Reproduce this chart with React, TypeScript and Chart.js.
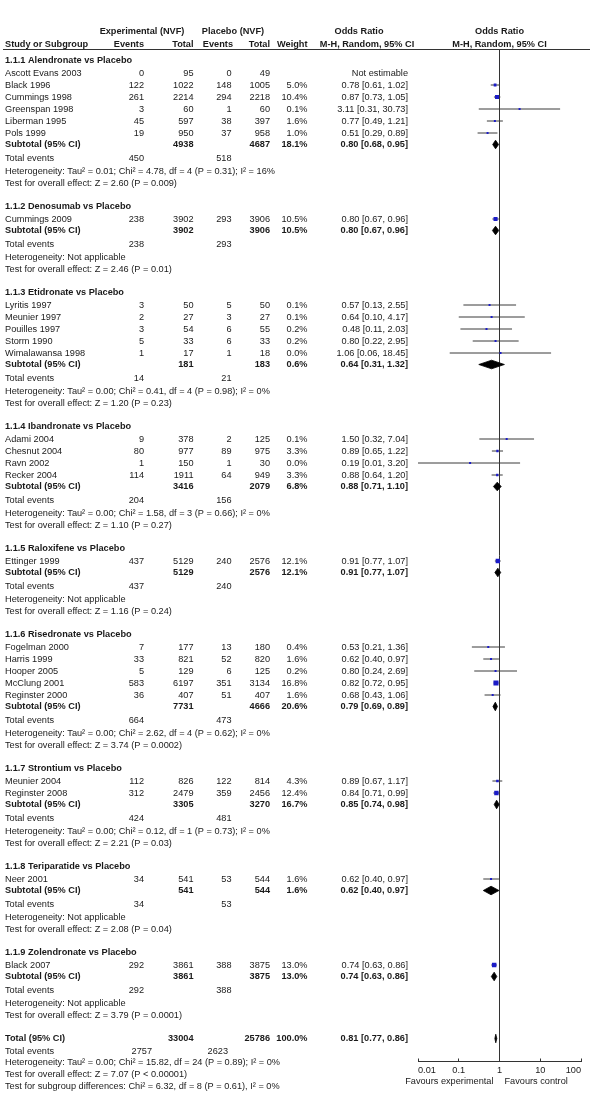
import React, { useEffect, useRef } from "react";
import { Chart, registerables } from "chart.js";

Chart.register(...registerables);

// ---------------- DATA ----------------
const groupTitles = [
  "1.1.1 Alendronate vs Placebo",
  "1.1.2 Denosumab vs Placebo",
  "1.1.3 Etidronate vs Placebo",
  "1.1.4 Ibandronate vs Placebo",
  "1.1.5 Raloxifene vs Placebo",
  "1.1.6 Risedronate vs Placebo",
  "1.1.7 Strontium vs Placebo",
  "1.1.8 Teriparatide vs Placebo",
  "1.1.9 Zolendronate vs Placebo",
];

const studyNames = [
  "Ascott Evans 2003", "Black 1996", "Cummings 1998", "Greenspan 1998", "Liberman 1995", "Pols 1999",
  "Cummings 2009",
  "Lyritis 1997", "Meunier 1997", "Pouilles 1997", "Storm 1990", "Wimalawansa 1998",
  "Adami 2004", "Chesnut 2004", "Ravn 2002", "Recker 2004",
  "Ettinger 1999",
  "Fogelman 2000", "Harris 1999", "Hooper 2005", "McClung 2001", "Reginster 2000",
  "Meunier 2004", "Reginster 2008",
  "Neer 2001",
  "Black 2007",
];
const studyGroup = [0, 0, 0, 0, 0, 0, 1, 2, 2, 2, 2, 2, 3, 3, 3, 3, 4, 5, 5, 5, 5, 5, 6, 6, 7, 8];
const expEvents = [0, 122, 261, 3, 45, 19, 238, 3, 2, 3, 5, 1, 9, 80, 1, 114, 437, 7, 33, 5, 583, 36, 112, 312, 34, 292];
const expTotal = [95, 1022, 2214, 60, 597, 950, 3902, 50, 27, 54, 33, 17, 378, 977, 150, 1911, 5129, 177, 821, 129, 6197, 407, 826, 2479, 541, 3861];
const plaEvents = [0, 148, 294, 1, 38, 37, 293, 5, 3, 6, 6, 1, 2, 89, 1, 64, 240, 13, 52, 6, 351, 51, 122, 359, 53, 388];
const plaTotal = [49, 1005, 2218, 60, 397, 958, 3906, 50, 27, 55, 33, 18, 125, 975, 30, 949, 2576, 180, 820, 125, 3134, 407, 814, 2456, 544, 3875];
const weights: (number | null)[] = [null, 5.0, 10.4, 0.1, 1.6, 1.0, 10.5, 0.1, 0.1, 0.2, 0.2, 0.0, 0.1, 3.3, 0.0, 3.3, 12.1, 0.4, 1.6, 0.2, 16.8, 1.6, 4.3, 12.4, 1.6, 13.0];
const orEst: (number | null)[] = [null, 0.78, 0.87, 3.11, 0.77, 0.51, 0.8, 0.57, 0.64, 0.48, 0.8, 1.06, 1.5, 0.89, 0.19, 0.88, 0.91, 0.53, 0.62, 0.8, 0.82, 0.68, 0.89, 0.84, 0.62, 0.74];
const orLow: (number | null)[] = [null, 0.61, 0.73, 0.31, 0.49, 0.29, 0.67, 0.13, 0.1, 0.11, 0.22, 0.06, 0.32, 0.65, 0.01, 0.64, 0.77, 0.21, 0.4, 0.24, 0.72, 0.43, 0.67, 0.71, 0.4, 0.63];
const orHigh: (number | null)[] = [null, 1.02, 1.05, 30.73, 1.21, 0.89, 0.96, 2.55, 4.17, 2.03, 2.95, 18.45, 7.04, 1.22, 3.2, 1.2, 1.07, 1.36, 0.97, 2.69, 0.95, 1.06, 1.17, 0.99, 0.97, 0.86];

const subExpTotal = [4938, 3902, 181, 3416, 5129, 7731, 3305, 541, 3861];
const subPlaTotal = [4687, 3906, 183, 2079, 2576, 4666, 3270, 544, 3875];
const subWeight = [18.1, 10.5, 0.6, 6.8, 12.1, 20.6, 16.7, 1.6, 13.0];
const subEst = [0.8, 0.8, 0.64, 0.88, 0.91, 0.79, 0.85, 0.62, 0.74];
const subLow = [0.68, 0.67, 0.31, 0.71, 0.77, 0.69, 0.74, 0.4, 0.63];
const subHigh = [0.95, 0.96, 1.32, 1.1, 1.07, 0.89, 0.98, 0.97, 0.86];
const subExpEvents = [450, 238, 14, 204, 437, 664, 424, 34, 292];
const subPlaEvents = [518, 293, 21, 156, 240, 473, 481, 53, 388];
const hetTexts = [
  "Heterogeneity: Tau² = 0.01; Chi² = 4.78, df = 4 (P = 0.31); I² = 16%",
  "Heterogeneity: Not applicable",
  "Heterogeneity: Tau² = 0.00; Chi² = 0.41, df = 4 (P = 0.98); I² = 0%",
  "Heterogeneity: Tau² = 0.00; Chi² = 1.58, df = 3 (P = 0.66); I² = 0%",
  "Heterogeneity: Not applicable",
  "Heterogeneity: Tau² = 0.00; Chi² = 2.62, df = 4 (P = 0.62); I² = 0%",
  "Heterogeneity: Tau² = 0.00; Chi² = 0.12, df = 1 (P = 0.73); I² = 0%",
  "Heterogeneity: Not applicable",
  "Heterogeneity: Not applicable",
];
const testTexts = [
  "Test for overall effect: Z = 2.60 (P = 0.009)",
  "Test for overall effect: Z = 2.46 (P = 0.01)",
  "Test for overall effect: Z = 1.20 (P = 0.23)",
  "Test for overall effect: Z = 1.10 (P = 0.27)",
  "Test for overall effect: Z = 1.16 (P = 0.24)",
  "Test for overall effect: Z = 3.74 (P = 0.0002)",
  "Test for overall effect: Z = 2.21 (P = 0.03)",
  "Test for overall effect: Z = 2.08 (P = 0.04)",
  "Test for overall effect: Z = 3.79 (P = 0.0001)",
];

const totalExpTotal = 33004;
const totalPlaTotal = 25786;
const totalWeight = 100.0;
const totalEst = 0.81;
const totalLow = 0.77;
const totalHigh = 0.86;
const totalExpEvents = 2757;
const totalPlaEvents = 2623;
const totalHet = "Heterogeneity: Tau² = 0.00; Chi² = 15.82, df = 24 (P = 0.89); I² = 0%";
const totalTest = "Test for overall effect: Z = 7.07 (P < 0.00001)";
const subgroupTest = "Test for subgroup differences: Chi² = 6.32, df = 8 (P = 0.61), I² = 0%";

const tickValues = [0.01, 0.1, 1, 10, 100];
const tickLabels = ["0.01", "0.1", "1", "10", "100"];
const favoursLeft = "Favours experimental";
const favoursRight = "Favours control";

// ---------------- LAYOUT / STYLE ----------------
const W = 600;
const H = 1119;
const FF = "'Liberation Sans', Arial, sans-serif";
const FS = 9.2;
const TEXT = "#1a1a1a";
const RULE_Y = 49.5;
const HEAD1_Y = 31;
const HEAD2_Y = 44.5;
const FIRST_Y = 60.5;
const STEP = { headStudy: 12.5, study: 12, studySub: 11.5, subTE: 14, teHet: 12.5, hetTest: 12, testHead: 23.5 };
const FINAL = { totTE: 12.5, teHet: 11.5, hetTest: 12, testSub: 11.5 };
const COL = { name: 5, expEv: 144, expTot: 193.5, plaEv: 231.5, plaTot: 270, weight: 307.5, or: 408 };

type Row = { kind: string; y: number; i: number };

function buildRows() {
  const rows: Row[] = [];
  let y = FIRST_Y;
  for (let g = 0; g < groupTitles.length; g++) {
    rows.push({ kind: "group", y, i: g });
    y += STEP.headStudy;
    const members = studyNames.map((_, i) => i).filter((i) => studyGroup[i] === g);
    members.forEach((i, k) => {
      rows.push({ kind: "study", y, i });
      if (k < members.length - 1) y += STEP.study;
    });
    y += STEP.studySub;
    rows.push({ kind: "sub", y, i: g });
    y += STEP.subTE;
    rows.push({ kind: "te", y, i: g });
    y += STEP.teHet;
    rows.push({ kind: "het", y, i: g });
    y += STEP.hetTest;
    rows.push({ kind: "test", y, i: g });
    y += STEP.testHead;
  }
  rows.push({ kind: "total", y, i: 0 });
  y += FINAL.totTE;
  rows.push({ kind: "totalTE", y, i: 0 });
  y += FINAL.teHet;
  rows.push({ kind: "totalHet", y, i: 0 });
  y += FINAL.hetTest;
  rows.push({ kind: "totalTest", y, i: 0 });
  y += FINAL.testSub;
  rows.push({ kind: "subgroup", y, i: 0 });
  return rows;
}

const ROWS = buildRows();
const AXIS_Y = ROWS.find((r) => r.kind === "totalHet")!.y - 1;

const fmtOR = (e: number | null, l: number | null, h: number | null) =>
  e == null ? "Not estimable" : `${e.toFixed(2)} [${l!.toFixed(2)}, ${h!.toFixed(2)}]`;

function squareRadius(w: number) {
  const side = Math.max(2, 1.25 * Math.sqrt(w));
  return side / Math.SQRT2;
}

export default function App() {
  const ref = useRef<HTMLCanvasElement | null>(null);

  useEffect(() => {
    if (!ref.current) return;

    const ciData: any[] = [];
    const sqData: any[] = [];
    const sqW: number[] = [];
    const diaData: any[] = [];
    const DH = 4.3;

    const pushDiamond = (y: number, e: number, l: number, h: number) => {
      diaData.push({ x: l, y }, { x: e, y: y - DH }, { x: h, y }, { x: e, y: y + DH }, { x: l, y }, { x: null, y: null });
    };

    ROWS.forEach((r) => {
      if (r.kind === "study" && orEst[r.i] != null) {
        ciData.push({ x: orLow[r.i], y: r.y }, { x: orHigh[r.i], y: r.y }, { x: null, y: null });
        sqData.push({ x: orEst[r.i], y: r.y });
        sqW.push(weights[r.i] as number);
      } else if (r.kind === "sub") {
        pushDiamond(r.y, subEst[r.i], subLow[r.i], subHigh[r.i]);
      } else if (r.kind === "total") {
        pushDiamond(r.y, totalEst, totalLow, totalHigh);
      }
    });

    const textPlugin = {
      id: "forestText",
      afterDraw(chart: any) {
        const ctx = chart.ctx as CanvasRenderingContext2D;
        const ys = chart.scales.y;
        const xs = chart.scales.x;
        const py = (v: number) => ys.getPixelForValue(v);
        ctx.save();
        ctx.fillStyle = TEXT;
        ctx.textBaseline = "middle";
        const t = (s: string, x: number, y: number, align: CanvasTextAlign, bold = false) => {
          ctx.font = `${bold ? "bold " : ""}${FS}px ${FF}`;
          ctx.textAlign = align;
          ctx.fillText(s, x, py(y));
        };
        const x1 = xs.getPixelForValue(1);

        // header
        t("Experimental (NVF)", 142, HEAD1_Y, "center", true);
        t("Placebo (NVF)", 233, HEAD1_Y, "center", true);
        t("Odds Ratio", 359, HEAD1_Y, "center", true);
        t("Odds Ratio", x1, HEAD1_Y, "center", true);
        t("Study or Subgroup", COL.name, HEAD2_Y, "left", true);
        t("Events", COL.expEv, HEAD2_Y, "right", true);
        t("Total", COL.expTot, HEAD2_Y, "right", true);
        t("Events", COL.plaEv + 1.5, HEAD2_Y, "right", true);
        t("Total", COL.plaTot, HEAD2_Y, "right", true);
        t("Weight", COL.weight, HEAD2_Y, "right", true);
        t("M-H, Random, 95% CI", 367, HEAD2_Y, "center", true);
        t("M-H, Random, 95% CI", x1, HEAD2_Y, "center", true);

        // rule under the header
        ctx.strokeStyle = "#333";
        ctx.lineWidth = 1;
        ctx.beginPath();
        ctx.moveTo(3, py(RULE_Y));
        ctx.lineTo(590, py(RULE_Y));
        ctx.stroke();

        ROWS.forEach((r) => {
          const i = r.i;
          switch (r.kind) {
            case "group":
              t(groupTitles[i], COL.name, r.y, "left", true);
              break;
            case "study":
              t(studyNames[i], COL.name, r.y, "left");
              t(String(expEvents[i]), COL.expEv, r.y, "right");
              t(String(expTotal[i]), COL.expTot, r.y, "right");
              t(String(plaEvents[i]), COL.plaEv, r.y, "right");
              t(String(plaTotal[i]), COL.plaTot, r.y, "right");
              if (weights[i] != null) t(`${(weights[i] as number).toFixed(1)}%`, COL.weight, r.y, "right");
              t(fmtOR(orEst[i], orLow[i], orHigh[i]), COL.or, r.y, "right");
              break;
            case "sub":
              t("Subtotal (95% CI)", COL.name, r.y, "left", true);
              t(String(subExpTotal[i]), COL.expTot, r.y, "right", true);
              t(String(subPlaTotal[i]), COL.plaTot, r.y, "right", true);
              t(`${subWeight[i].toFixed(1)}%`, COL.weight, r.y, "right", true);
              t(fmtOR(subEst[i], subLow[i], subHigh[i]), COL.or, r.y, "right", true);
              break;
            case "te":
              t("Total events", COL.name, r.y, "left");
              t(String(subExpEvents[i]), COL.expEv, r.y, "right");
              t(String(subPlaEvents[i]), COL.plaEv, r.y, "right");
              break;
            case "het":
              t(hetTexts[i], COL.name, r.y, "left");
              break;
            case "test":
              t(testTexts[i], COL.name, r.y, "left");
              break;
            case "total":
              t("Total (95% CI)", COL.name, r.y, "left", true);
              t(String(totalExpTotal), COL.expTot, r.y, "right", true);
              t(String(totalPlaTotal), COL.plaTot, r.y, "right", true);
              t(`${totalWeight.toFixed(1)}%`, COL.weight, r.y, "right", true);
              t(fmtOR(totalEst, totalLow, totalHigh), COL.or, r.y, "right", true);
              break;
            case "totalTE":
              t("Total events", COL.name, r.y, "left");
              t(String(totalExpEvents), 152, r.y, "right");
              t(String(totalPlaEvents), 228, r.y, "right");
              break;
            case "totalHet":
              t(totalHet, COL.name, r.y, "left");
              break;
            case "totalTest":
              t(totalTest, COL.name, r.y, "left");
              break;
            case "subgroup":
              t(subgroupTest, COL.name, r.y, "left");
              break;
          }
        });

        // favours labels
        t(favoursLeft, x1 - 6, AXIS_Y + 20, "right");
        t(favoursRight, x1 + 5, AXIS_Y + 20, "left");
        ctx.restore();
      },
    };

    const chart = new Chart(ref.current, {
      type: "scatter",
      data: {
        datasets: [
          {
            data: sqData,
            pointStyle: "rect",
            pointRadius: (c: any) => squareRadius(sqW[c.dataIndex] ?? 0),
            pointHoverRadius: (c: any) => squareRadius(sqW[c.dataIndex] ?? 0),
            backgroundColor: "#1c1cc8",
            borderWidth: 0,
            showLine: false,
          } as any,
          {
            data: ciData,
            showLine: true,
            spanGaps: false,
            borderColor: "#3a3a3a",
            borderWidth: 1,
            pointRadius: 0,
            pointHoverRadius: 0,
          } as any,
          {
            data: diaData,
            showLine: true,
            spanGaps: false,
            fill: "shape",
            backgroundColor: "#000",
            borderColor: "#000",
            borderWidth: 0.8,
            pointRadius: 0,
            pointHoverRadius: 0,
          } as any,
        ],
      },
      options: {
        responsive: false,
        animation: false,
        events: [],
        layout: { padding: { left: 418, right: 19, top: RULE_Y, bottom: 0 } },
        plugins: { legend: { display: false }, tooltip: { enabled: false } },
        scales: {
          x: {
            type: "logarithmic",
            position: "bottom",
            min: 0.01,
            max: 100,
            afterBuildTicks: (s: any) => {
              s.ticks = tickValues.map((v) => ({ value: v }));
            },
            afterFit: (s: any) => {
              s.height = H - AXIS_Y;
            },
            ticks: {
              callback: (_v: any, i: number) => tickLabels[i],
              align: "inner",
              autoSkip: false,
              maxRotation: 0,
              padding: 6,
              color: TEXT,
              font: { family: FF, size: FS },
            },
            grid: {
              color: (c: any) => (c.tick && c.tick.value === 1 ? "#333" : "rgba(0,0,0,0)"),
              tickColor: "#333",
              tickLength: -3,
              lineWidth: 1,
              drawOnChartArea: true,
              drawTicks: true,
            },
            border: { display: true, color: "#333", width: 1 },
          } as any,
          y: {
            type: "linear",
            min: RULE_Y,
            max: AXIS_Y,
            reverse: true,
            display: false,
          },
        },
      },
      plugins: [textPlugin],
    });

    return () => chart.destroy();
  }, []);

  return (
    <div style={{ position: "absolute", left: 0, top: 0, width: W, height: H, background: "#fff" }}>
      <canvas ref={ref} width={W} height={H} style={{ display: "block", width: W, height: H }} />
    </div>
  );
}
